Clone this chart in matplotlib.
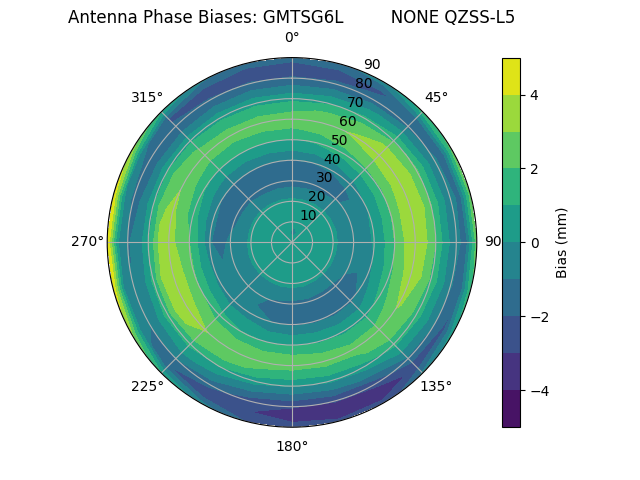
import matplotlib

matplotlib.use("Agg")
import matplotlib.pyplot as plt
import numpy as np

TITLE = "Antenna Phase Biases: GMTSG6L         NONE QZSS-L5"

# grid: azimuth every 15 deg, zenith every 5 deg
AZIMUTH_DEG = [0, 15, 30, 45, 60, 75, 90, 105, 120, 135, 150, 165,
               180, 195, 210, 225, 240, 255, 270, 285, 300, 315, 330, 345]
ZENITH_DEG = [0, 5, 10, 15, 20, 25, 30, 35, 40, 45, 50, 55, 60, 65, 70, 75, 80, 85, 90]

# bias (mm) per zenith ring, one value per azimuth above
Z00 = [0.5] * 24
Z05 = [-0.3, -0.3, 0.2, 0.4, 0.5, 0.5, 0.5, 0.5, 0.5, 0.5, 0.5, 0.5,
       0.5, 0.5, 0.5, 0.5, 0.5, 0.5, 0.5, 0.5, 0.5, 0.4, 0.3, 0.1]
Z10 = [0.5] * 24
Z15 = [0.5] * 24
Z20 = [0.3, 0.3, 0.3, 0.3, 0.3, 0.3, 0.3, 0.3, 0.3, 0.3, 0.35, 0.4,
       0.4, 0.4, 0.35, 0.3, 0.3, 0.3, 0.3, 0.3, 0.3, 0.3, 0.3, 0.3]
Z25 = [-0.8, -0.8, -0.7, -0.6, -0.5, -0.4, -0.4, -0.5, -0.6, -0.7, -0.7, -0.6,
       -0.6, -0.6, -0.6, -0.5, -0.5, -0.5, -0.6, -0.7, -0.7, -0.7, -0.8, -0.8]
Z30 = [-1.3, -1.3, -1.2, -1.1, -0.8, -0.6, -0.6, -0.7, -1.0, -1.2, -1.2, -1.2,
       -1.2, -1.1, -0.9, -0.8, -0.8, -0.8, -0.8, -1.1, -1.2, -1.2, -1.3, -1.3]
Z35 = [-1.6, -1.6, -1.5, -1.3, -0.8, -0.4, -0.4, -0.6, -1.2, -1.6, -1.6, -1.6,
       -1.6, -1.4, -1.0, -0.9, -0.9, -1.0, -1.3, -1.4, -1.5, -1.5, -1.5, -1.6]
Z40 = [-1.1, -1.0, -0.9, -0.5, -0.1, 0.1, 0.1, -0.1, -0.6, -1.3, -1.3, -1.2,
       -1.2, -1.0, -0.6, -0.6, -0.3, -0.3, -0.95, -0.8, -1.0, -1.1, -1.1, -1.1]
Z45 = [0.0, 0.1, 0.3, 0.5, 0.7, 0.9, 0.9, 0.7, 0.4, -0.2, -0.2, -0.1,
       -0.1, 0.0, 0.3, 0.4, 0.6, 0.7, 0.7, 0.4, 0.1, -0.1, -0.1, 0.0]
Z50 = [0.9, 1.1, 1.4, 1.7, 1.8, 2.0, 2.0, 1.8, 1.3, 0.7, 0.7, 0.8,
       0.9, 0.9, 1.0, 1.4, 1.9, 2.1, 2.0, 1.5, 1.1, 0.9, 0.9, 0.9]
Z55 = [1.9, 2.1, 2.5, 2.8, 2.9, 3.1, 3.0, 2.8, 2.3, 1.6, 1.7, 1.9,
       2.0, 2.0, 2.1, 2.4, 2.9, 3.0, 2.7, 2.4, 2.1, 1.8, 1.8, 1.9]
Z60 = [2.5, 2.7, 3.1, 3.4, 3.6, 3.8, 3.7, 3.5, 3.1, 2.5, 2.3, 2.4,
       2.4, 2.5, 2.7, 3.05, 3.5, 3.6, 3.4, 3.2, 2.9, 2.5, 2.4, 2.4]
Z65 = [1.8, 2.1, 2.6, 3.1, 3.3, 3.4, 3.2, 3.0, 2.7, 2.5, 1.8, 1.6,
       1.5, 1.8, 2.3, 2.7, 3.3, 3.4, 3.1, 2.9, 2.5, 1.9, 1.8, 1.8]
Z70 = [0.7, 0.9, 1.2, 1.8, 2.2, 2.1, 2.0, 1.8, 1.5, 1.3, 0.5, 0.2,
       0.1, 0.4, 1.0, 1.3, 1.5, 1.3, 0.9, 0.9, 0.9, 0.8, 0.7, 0.7]
Z75 = [-0.6, -0.4, -0.1, 0.3, 0.5, 0.5, 0.4, 0.4, 0.3, 0.1, -0.9, -1.2,
       -1.3, -1.0, -0.3, 0.2, 0.0, -0.4, -0.6, -0.8, -0.8, -0.8, -0.7, -0.6]
Z80 = [-1.9, -1.8, -1.6, -1.3, -0.9, -0.8, -0.8, -0.9, -1.0, -1.2, -2.8, -2.9,
       -2.9, -2.6, -1.6, -1.0, -1.0, -1.0, -1.1, -1.4, -1.8, -1.9, -1.9, -1.9]
Z85 = [-2.6, -2.5, -2.2, -1.5, -1.3, -1.2, -1.3, -1.6, -2.3, -2.8, -3.5, -3.8,
       -3.7, -2.95, -3.0, -2.0, -0.3, 0.0, 0.1, 0.2, -0.5, -2.1, -2.5, -2.6]
Z90 = [-1.6, -1.3, -0.5, 1.5, 2.3, 2.5, 2.5, 1.8, 0.5, -0.8, -2.8, -2.8,
       -2.4, -2.0, -0.5, 1.0, 3.2, 4.9, 4.95, 4.9, 3.5, 1.0, -0.8, -1.5]

LEVELS = np.arange(-5, 6, 1)


def main() -> None:
    rows = [Z00, Z05, Z10, Z15, Z20, Z25, Z30, Z35, Z40, Z45,
            Z50, Z55, Z60, Z65, Z70, Z75, Z80, Z85, Z90]
    bias = np.array(rows, dtype=float)
    # close the circle: 360 deg is the same column as 0 deg
    bias = np.hstack([bias, bias[:, :1]])
    az = np.deg2rad(np.array(AZIMUTH_DEG + [360], dtype=float))
    zen = np.array(ZENITH_DEG, dtype=float)
    theta, r = np.meshgrid(az, zen)

    fig, ax = plt.subplots(figsize=(6.4, 4.8), dpi=100, subplot_kw={"projection": "polar"})
    ax.set_theta_zero_location("N")
    ax.set_theta_direction(-1)
    cs = ax.contourf(theta, r, bias, levels=LEVELS, cmap="viridis")
    ax.set_ylim(0, 90)
    ax.set_yticks(np.arange(10, 91, 10))
    ax.grid(True)
    ax.set_title(TITLE)
    cbar = fig.colorbar(cs, ax=ax)
    cbar.set_label("Bias (mm)")
    cbar.set_ticks([-4, -2, 0, 2, 4])

    fig.savefig("out.png", dpi=100)
    plt.close(fig)


if __name__ == "__main__":
    main()
